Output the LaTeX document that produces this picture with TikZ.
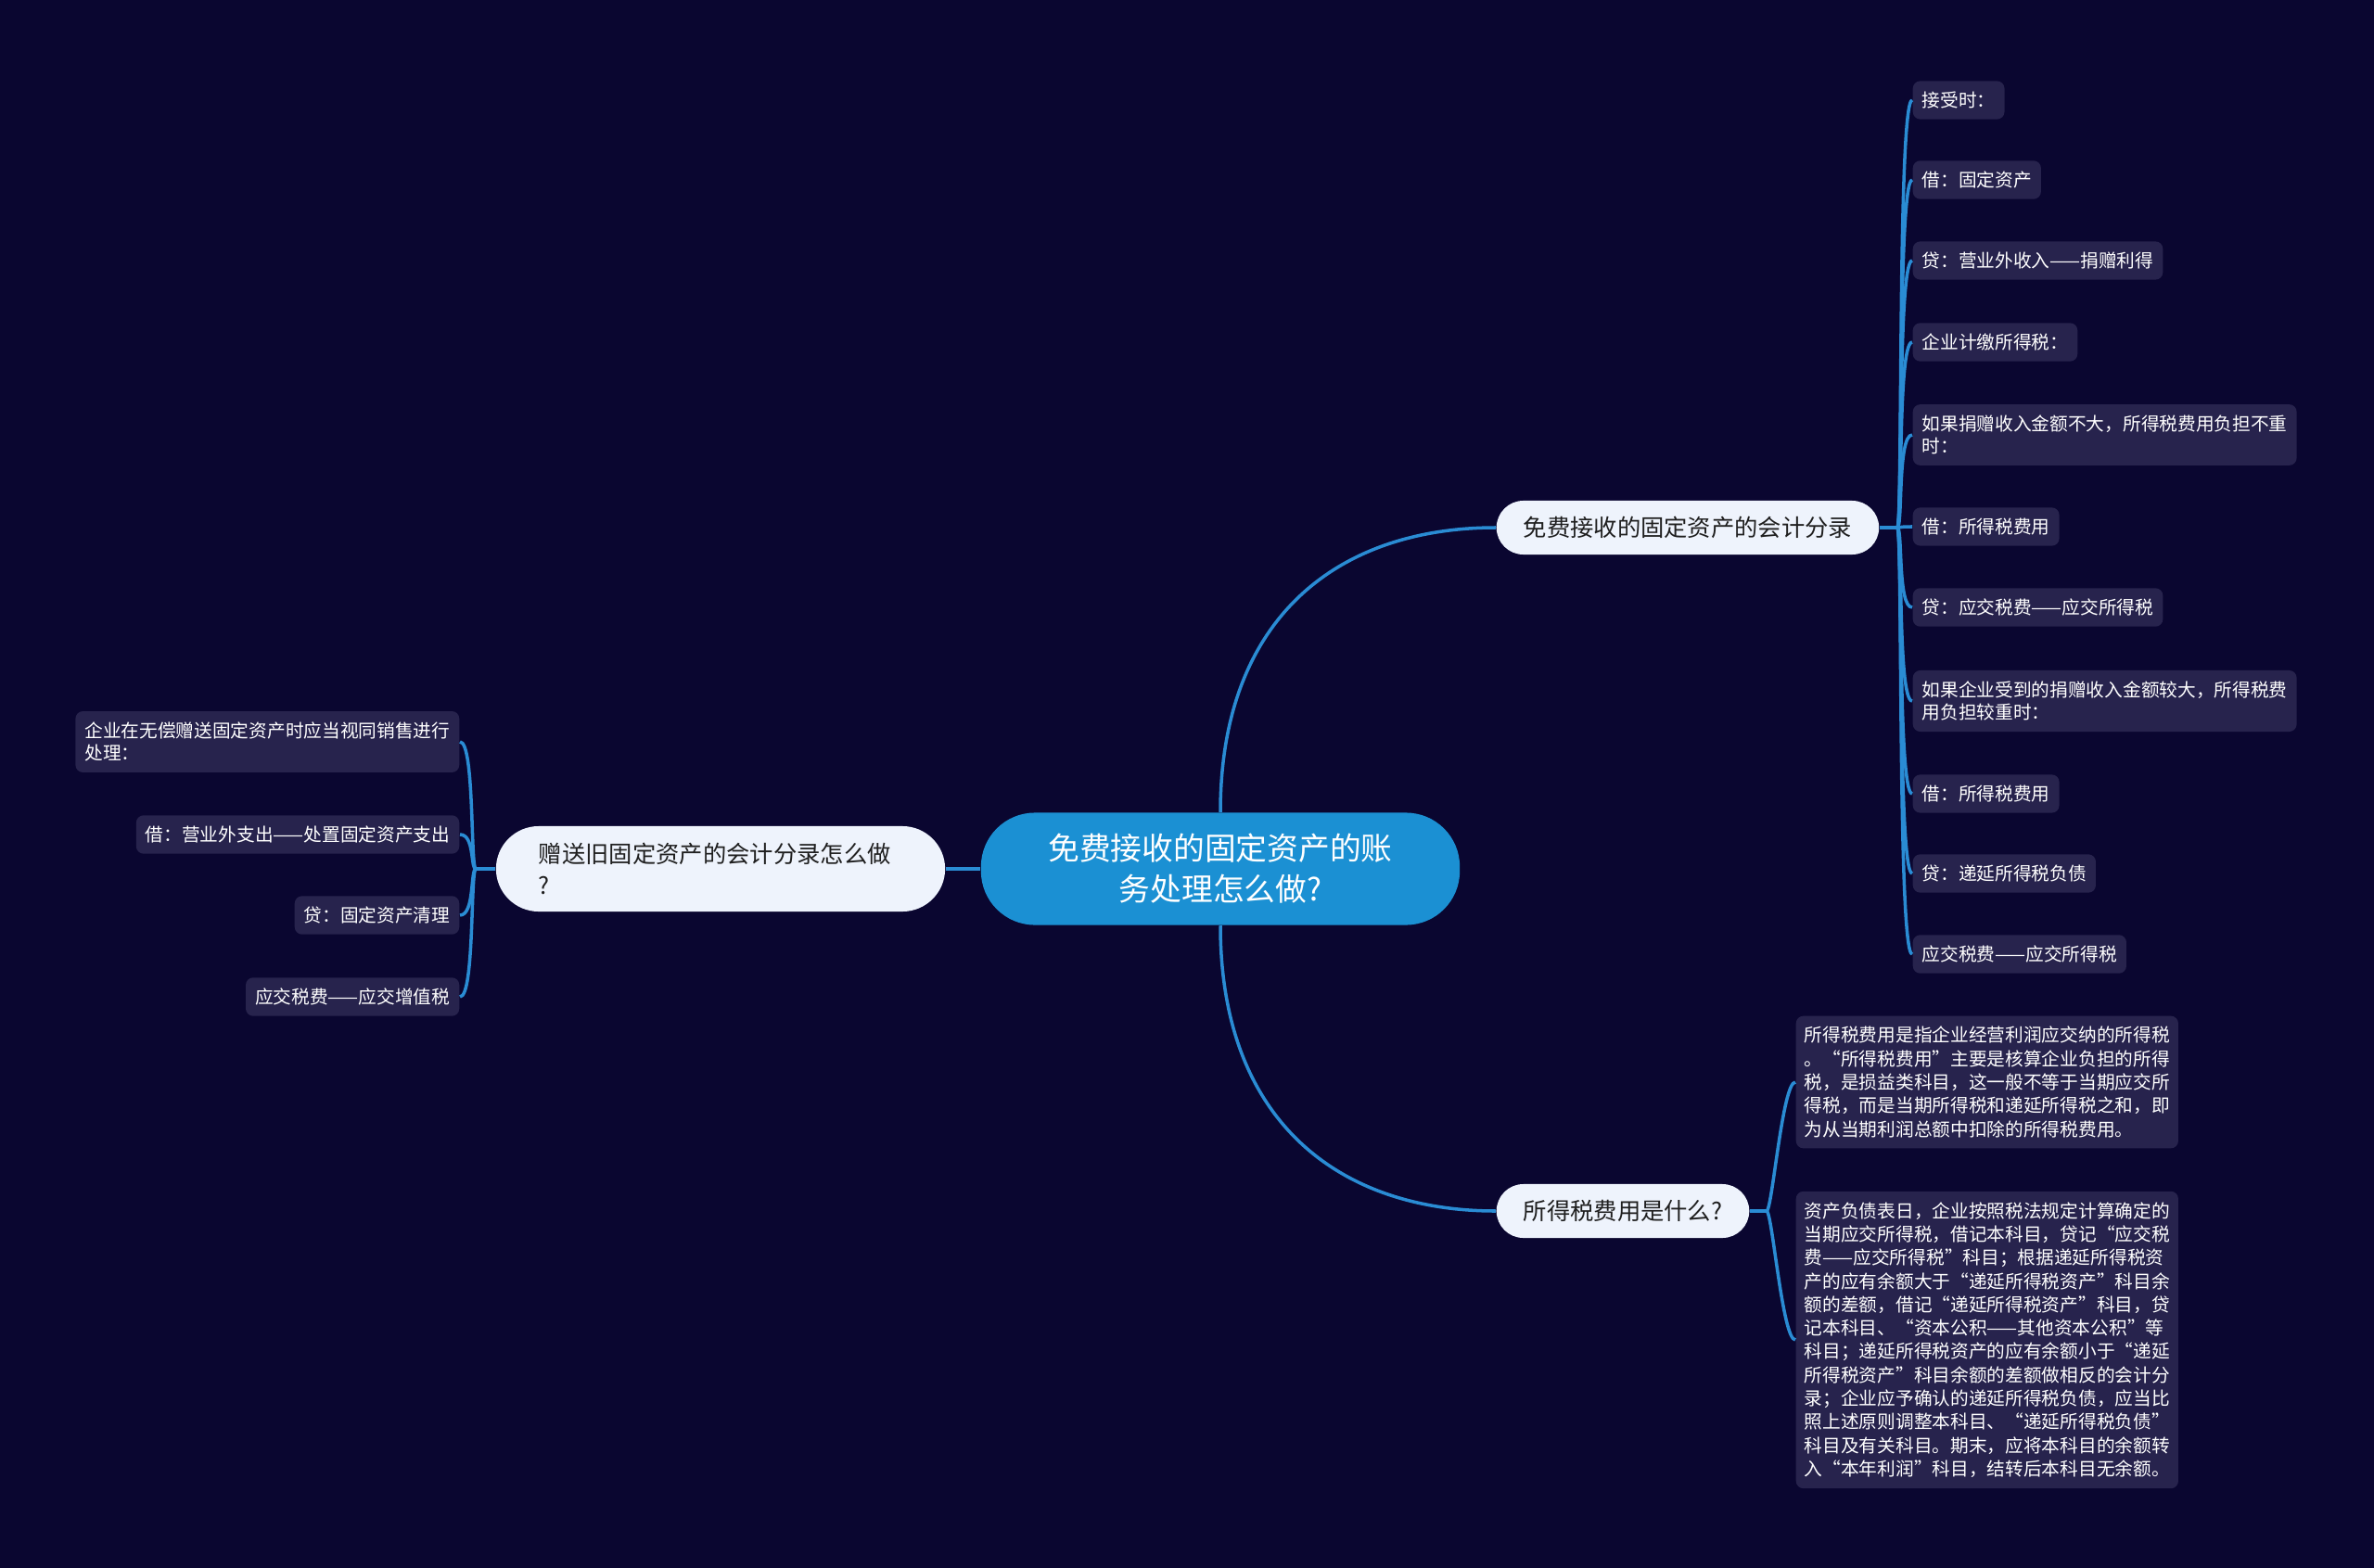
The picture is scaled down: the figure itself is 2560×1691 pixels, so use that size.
\documentclass[tikz,border=0pt]{standalone}
\usepackage{fontspec}
\setmainfont{Noto Sans CJK SC}
\usepackage{tikz}
\usetikzlibrary{calc}
\definecolor{mbg}{HTML}{0A0630}
\definecolor{mroot}{HTML}{1B90D3}
\definecolor{mtopic}{HTML}{EEF3FC}
\definecolor{mtopictext}{HTML}{1F1F1F}
\definecolor{mleaf}{HTML}{27234D}
\definecolor{mline}{HTML}{2A8CD4}
\tikzset{
  rootbox/.style={fill=mroot, text=white, rounded corners=0.58cm,
                  minimum width=5.16cm, minimum height=1.21cm, align=center,
                  font=\fontsize{9.6}{12.5}\selectfont},
  topicbox/.style={fill=mtopic, text=mtopictext, rounded corners=0.29cm,
                   minimum height=0.58cm, inner xsep=0.29cm, align=left,
                   font=\fontsize{7.2}{9.8}\selectfont},
  leafbox/.style={fill=mleaf, text=white, rounded corners=0.08cm,
                  inner xsep=0.1cm, inner ysep=0.115cm, align=left,
                  font=\fontsize{5.6}{7}\selectfont},
  notebox/.style={leafbox, minimum width=4.12cm, inner xsep=0.09cm,
                  font=\fontsize{5.6}{7.2}\selectfont},
  link/.style={draw=mline, line width=1pt},
}
\begin{document}
\begin{tikzpicture}[x=0.01cm, y=-0.01cm]
  \fill[mbg] (0,0) rectangle (2560,1691);
  % 中心主题
  \node[rootbox] (root) at (1316,937) {免费接收的固定资产的账\\务处理怎么做?};
  % 分支
  \node[topicbox, anchor=west] (rt) at (1613,569) {免费接收的固定资产的会计分录};
  \node[topicbox, anchor=west] (rb) at (1613,1306) {所得税费用是什么?};
  \node[topicbox, text width=3.92cm, inner xsep=0.46cm, minimum height=0.92cm,
        rounded corners=0.46cm] (lf) at (777,937)
    {赠送旧固定资产的会计分录怎么做\\?};
  % 右上叶子
  \node[leafbox, anchor=west] (r1) at (2062,108) {接受时：};
  \node[leafbox, anchor=west] (r2) at (2062,194) {借：固定资产};
  \node[leafbox, anchor=west] (r3) at (2062,281) {贷：营业外收入——捐赠利得};
  \node[leafbox, anchor=west] (r4) at (2062,369) {企业计缴所得税：};
  \node[leafbox, anchor=west] (r5) at (2062,469)
    {如果捐赠收入金额不大，所得税费用负担不重\\时：};
  \node[leafbox, anchor=west] (r6) at (2062,568) {借：所得税费用};
  \node[leafbox, anchor=west] (r7) at (2062,655) {贷：应交税费——应交所得税};
  \node[leafbox, anchor=west] (r8) at (2062,756)
    {如果企业受到的捐赠收入金额较大，所得税费\\用负担较重时：};
  \node[leafbox, anchor=west] (r9) at (2062,856) {借：所得税费用};
  \node[leafbox, anchor=west] (r10) at (2062,942) {贷：递延所得税负债};
  \node[leafbox, anchor=west] (r11) at (2062,1029) {应交税费——应交所得税};
  % 右下叶子
  \node[notebox, anchor=west] (b1) at (1936,1167)
    {所得税费用是指企业经营利润应交纳的所得税\\
     。“所得税费用”主要是核算企业负担的所得\\
     税，是损益类科目，这一般不等于当期应交所\\
     得税，而是当期所得税和递延所得税之和，即\\
     为从当期利润总额中扣除的所得税费用。};
  \node[notebox, anchor=west] (b2) at (1936,1445)
    {资产负债表日，企业按照税法规定计算确定的\\
     当期应交所得税，借记本科目，贷记“应交税\\
     费——应交所得税”科目；根据递延所得税资\\
     产的应有余额大于“递延所得税资产”科目余\\
     额的差额，借记“递延所得税资产”科目，贷\\
     记本科目、“资本公积——其他资本公积”等\\
     科目；递延所得税资产的应有余额小于“递延\\
     所得税资产”科目余额的差额做相反的会计分\\
     录；企业应予确认的递延所得税负债，应当比\\
     照上述原则调整本科目、“递延所得税负债”\\
     科目及有关科目。期末，应将本科目的余额转\\
     入“本年利润”科目，结转后本科目无余额。};
  % 左侧叶子
  \node[leafbox, anchor=east] (l1) at (496,800)
    {企业在无偿赠送固定资产时应当视同销售进行\\处理：};
  \node[leafbox, anchor=east] (l2) at (496,900) {借：营业外支出——处置固定资产支出};
  \node[leafbox, anchor=east] (l3) at (496,987) {贷：固定资产清理};
  \node[leafbox, anchor=east] (l4) at (496,1075) {应交税费——应交增值税};

  % 主题到分支
  \draw[link] (root.west) -- (lf.east);
  \draw[link] (root.north) .. controls +(0,-210) and +(-170,0) .. (rt.west);
  \draw[link] (root.south) .. controls +(0,210) and +(-170,0) .. (rb.west);
  % 分支到叶子
  \coordinate (rtj) at ($(rt.east)+(19,0)$);
  \draw[link] (rt.east) -- (rtj);
  \foreach \i in {1,...,11}
    \draw[link] (rtj) .. controls +(6,0) and +(-16,0) .. (r\i.west);
  \coordinate (rbj) at ($(rb.east)+(18,0)$);
  \draw[link] (rb.east) -- (rbj);
  \foreach \i in {1,2}
    \draw[link] (rbj) .. controls +(6,0) and +(-14,0) .. (b\i.west);
  \coordinate (lfj) at ($(lf.west)+(-21,0)$);
  \draw[link] (lf.west) -- (lfj);
  \foreach \i in {1,...,4}
    \draw[link] (lfj) .. controls +(-6,0) and +(16,0) .. (l\i.east);
\end{tikzpicture}
\end{document}
